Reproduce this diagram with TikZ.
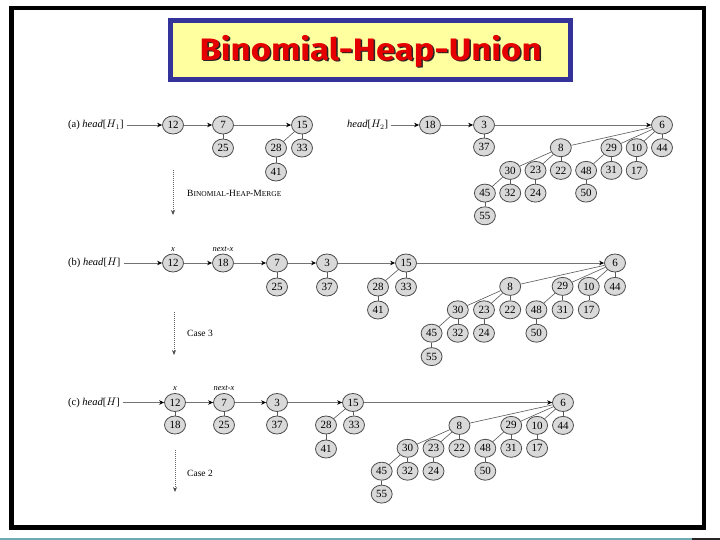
\documentclass[tikz,border=0pt]{standalone}
\usepackage{fontspec}
\setmainfont{Liberation Serif}
\newfontfamily\titlefont{Fira Sans}
\usetikzlibrary{shapes.geometric,arrows.meta,calc}
\definecolor{titleblue}{RGB}{51,51,153}
\definecolor{titleyellow}{RGB}{255,255,160}
\definecolor{titlered}{RGB}{228,0,0}
\definecolor{stripteal}{RGB}{110,170,180}
\tikzset{
 hn/.style={ellipse, draw=black!70, fill=black!15, line width=0.8pt, minimum width=21pt, minimum height=18pt, inner sep=0pt, font=\fontsize{11}{11}\selectfont},
 tr/.style={draw=black!65, line width=0.6pt},
 lk/.style={draw=black!55, line width=0.8pt, -{Stealth[length=5pt,width=4.5pt,black]}},
 stepdown/.style={draw=black!60, dash pattern=on 1pt off 1pt, line width=0.8pt, -{Stealth[length=5pt,width=4pt,black!70]}},
 lbl/.style={font=\fontsize{10.5}{10.5}\selectfont, anchor=west, inner sep=0pt},
 steplbl/.style={font=\fontsize{9.5}{9.5}\selectfont, anchor=west, inner sep=0pt},
 ptr/.style={font=\fontsize{8.5}{8.5}\selectfont\itshape, above=2pt, inner sep=0pt},
 titletext/.style={font=\titlefont\bfseries\fontsize{31}{31}\selectfont, text=titlered, inner sep=0pt, xscale=1.12},
 titleshadow/.style={font=\titlefont\bfseries\fontsize{31}{31}\selectfont, text=black!85, inner sep=0pt, xscale=1.12},
}
\newcommand\sixtree[5]{%
\begin{scope}[shift={(#2,#3)}, x=#4pt, y=-#5pt]
 \node[hn] (#1n6) at (0,0) {6};
 \node[hn] (#1n8) at (-4,1) {8};
 \node[hn] (#1n29) at (-2,1) {29};
 \node[hn] (#1n10) at (-1,1) {10};
 \node[hn] (#1n44) at (0,1) {44};
 \node[hn] (#1n30) at (-6,2) {30};
 \node[hn] (#1n23) at (-5,2) {23};
 \node[hn] (#1n22) at (-4,2) {22};
 \node[hn] (#1n48) at (-3,2) {48};
 \node[hn] (#1n31) at (-2,2) {31};
 \node[hn] (#1n17) at (-1,2) {17};
 \node[hn] (#1n45) at (-7,3) {45};
 \node[hn] (#1n32) at (-6,3) {32};
 \node[hn] (#1n24) at (-5,3) {24};
 \node[hn] (#1n50) at (-3,3) {50};
 \node[hn] (#1n55) at (-7,4) {55};
 \foreach \p/\c in {6/8,6/29,6/10,6/44,8/30,8/23,8/22,29/48,29/31,10/17,30/45,30/32,23/24,48/50,45/55}
   \draw[tr] (#1n\p) -- (#1n\c);
\end{scope}}
\newcommand\fakesc[1]{{\fontsize{7.5}{7.5}\selectfont #1}}
\newcommand\fakebig[1]{{\fontsize{9.5}{9.5}\selectfont #1}}
\begin{document}
\begin{tikzpicture}[x=1pt,y=-1pt]
\useasboundingbox (0,0) rectangle (720,540);
\fill[white] (0,0) rectangle (720,540);
\draw[line width=4.5pt] (11.5,8) rectangle (704,527.5);
\fill[stripteal] (0,537.5) rectangle (692,540);
\fill[black!85] (692,537.5) rectangle (720,540);
% title
\draw[titleblue, fill=titleyellow, line width=5pt] (170,21) rectangle (570,80);
\node[titleshadow] (tsh) at (372,52.5) {Binomial-Heap-Union};
\node[titletext] (ttl) at (370.5,51) {Binomial-Heap-Union};
% ---------- row (a)
\node[lbl] (ha) at (68,125) {(a) \textit{head}[$H_1$]};
\node[hn] (a12) at (173,125) {12};
\node[hn] (a7) at (223,125) {7};
\node[hn] (a25) at (223,148) {25};
\node[hn] (a15) at (302,125) {15};
\node[hn] (a28) at (276,148) {28};
\node[hn] (a33) at (302,148) {33};
\node[hn] (a41) at (276,172) {41};
\node[lbl] (hb) at (347,125) {\textit{head}[$H_2$]};
\node[hn] (a18) at (430,125) {18};
\node[hn] (a3) at (484,125) {3};
\node[hn] (a37) at (484,147) {37};
\sixtree{a}{662}{125}{25.3}{22.7}
\draw[lk, shorten <=3pt] (ha) -- (a12);
\draw[lk] (a12) -- (a7);
\draw[lk] (a7) -- (a15);
\draw[lk, shorten <=3pt] (hb) -- (a18);
\draw[lk] (a18) -- (a3);
\draw[lk] (a3) -- (an6);
\foreach \p/\c in {7/25,15/28,15/33,28/41,3/37} \draw[tr] (a\p) -- (a\c);
\coordinate (da1) at (173,170);
\coordinate (da2) at (173,215);
\draw[stepdown] (da1) -- (da2);
\node[steplbl] (ma) at (187,193) {\fakebig{B}\fakesc{INOMIAL}-\fakebig{H}\fakesc{EAP}-\fakebig{M}\fakesc{ERGE}};
% ---------- row (b)
\node[lbl] (hc) at (68,263) {(b) \textit{head}[$H$]};
\node[hn] (b12) at (173,263) {12};
\node[hn] (b18) at (223,263) {18};
\node[hn] (b7) at (277,263) {7};
\node[hn] (b25) at (277,287) {25};
\node[hn] (b3) at (327,263) {3};
\node[hn] (b37) at (327,287) {37};
\node[hn] (b15) at (406,263) {15};
\node[hn] (b28) at (378,287) {28};
\node[hn] (b33) at (406,287) {33};
\node[hn] (b41) at (378,310) {41};
\sixtree{b}{615}{263}{26.2}{23.4}
\node[ptr] (bx) at (b12.north) {x};
\node[ptr] (bnx) at (b18.north) {next-x};
\draw[lk, shorten <=3pt] (hc) -- (b12);
\draw[lk] (b12) -- (b18);
\draw[lk] (b18) -- (b7);
\draw[lk] (b7) -- (b3);
\draw[lk] (b3) -- (b15);
\draw[lk] (b15) -- (bn6);
\foreach \p/\c in {7/25,3/37,15/28,15/33,28/41} \draw[tr] (b\p) -- (b\c);
\coordinate (db1) at (174,312);
\coordinate (db2) at (174,355);
\draw[stepdown] (db1) -- (db2);
\node[steplbl] (mb) at (187,333) {Case 3};
% ---------- row (c)
\node[lbl] (hd) at (68,402.5) {(c) \textit{head}[$H$]};
\node[hn] (c12) at (175,402.5) {12};
\node[hn] (c18) at (175,425) {18};
\node[hn] (c7) at (224,402.5) {7};
\node[hn] (c25) at (224,425) {25};
\node[hn] (c3) at (277,402.5) {3};
\node[hn] (c37) at (277,425) {37};
\node[hn] (c15) at (353,402.5) {15};
\node[hn] (c28) at (326,425) {28};
\node[hn] (c33) at (354,425) {33};
\node[hn] (c41) at (326,449) {41};
\sixtree{c}{563}{402.5}{25.9}{22.9}
\node[ptr] (cx) at (c12.north) {x};
\node[ptr] (cnx) at (c7.north) {next-x};
\draw[lk, shorten <=3pt] (hd) -- (c12);
\draw[lk] (c12) -- (c7);
\draw[lk] (c7) -- (c3);
\draw[lk] (c3) -- (c15);
\draw[lk] (c15) -- (cn6);
\foreach \p/\c in {12/18,7/25,3/37,15/28,15/33,28/41} \draw[tr] (c\p) -- (c\c);
\coordinate (dc1) at (175,450);
\coordinate (dc2) at (175,492);
\draw[stepdown] (dc1) -- (dc2);
\node[steplbl] (mc) at (187,473) {Case 2};
\end{tikzpicture}
\end{document}
